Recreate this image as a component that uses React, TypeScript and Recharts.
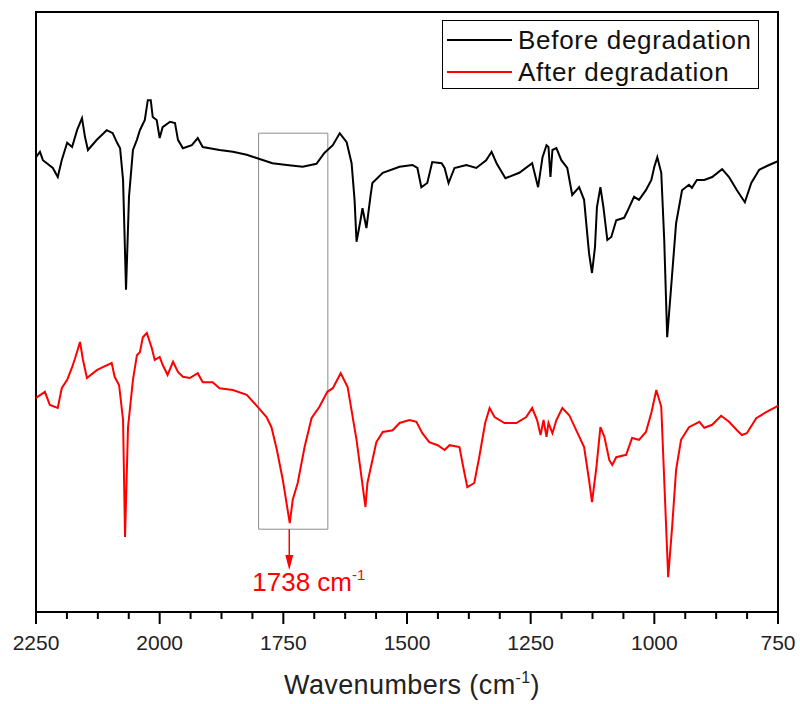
import React from 'react';
import {
  LineChart,
  Line,
  XAxis,
  YAxis,
  Legend,
  ReferenceArea,
  ReferenceLine,
  ReferenceDot,
} from 'recharts';

// FTIR spectra, wavenumber (cm-1) vs. transmittance (arbitrary units, offset)
const seriesNames = ['Before degradation', 'After degradation'];

const beforeWavenumbers = [
  2250, 2242, 2236, 2216, 2206, 2198, 2187, 2177, 2167, 2157, 2151, 2145, 2127, 2107, 2095, 2086,
  2080, 2074, 2068, 2062, 2054, 2046, 2040, 2030, 2024, 2018, 2014, 2006, 2000, 1994, 1979, 1969,
  1963, 1953, 1935, 1923, 1913, 1899, 1879, 1852, 1824, 1798, 1772, 1743, 1711, 1683, 1667, 1650,
  1636, 1622, 1612, 1606, 1602, 1594, 1590, 1582, 1574, 1570, 1549, 1515, 1489, 1479, 1471, 1459,
  1449, 1430, 1424, 1416, 1404, 1380, 1360, 1340, 1329, 1319, 1301, 1273, 1247, 1235, 1226, 1218,
  1214, 1210, 1206, 1198, 1188, 1176, 1166, 1152, 1142, 1132, 1126, 1120, 1116, 1109, 1103, 1095,
  1087, 1077, 1061, 1055, 1041, 1031, 1017, 1006, 1000, 994, 986, 980, 974, 966, 956, 944,
  930, 924, 914, 899, 883, 863, 849, 833, 817, 804, 788, 768, 754, 750,
];
const beforeValues = [
  75.8, 76.7, 75.3, 74.0, 72.5, 75.3, 78.2, 77.5, 80.3, 82.3, 79.2, 77.0, 78.7, 80.3, 79.8, 78.2,
  77.3, 72.0, 53.7, 69.2, 77.0, 78.7, 80.3, 82.0, 85.3, 85.3, 82.5, 82.0, 79.0, 80.8, 81.7, 81.5,
  78.7, 77.3, 77.8, 79.0, 77.5, 77.3, 77.0, 76.7, 76.2, 75.5, 74.8, 74.5, 74.2, 74.7, 76.5, 77.8,
  79.8, 78.3, 74.8, 68.7, 61.7, 65.3, 67.3, 64.0, 69.2, 71.5, 73.2, 74.2, 74.5, 74.0, 70.8, 71.5,
  75.0, 74.8, 74.0, 71.5, 74.0, 74.5, 74.0, 75.3, 76.7, 74.8, 72.3, 73.2, 74.8, 70.8, 75.8, 77.8,
  77.5, 72.5, 77.0, 77.3, 75.3, 74.0, 69.5, 70.8, 68.7, 59.8, 56.5, 60.8, 67.5, 70.8, 67.5, 62.0,
  62.5, 65.3, 65.7, 66.7, 69.2, 68.7, 70.3, 72.0, 74.2, 75.8, 73.2, 62.0, 45.8, 54.2, 64.8, 70.3,
  71.2, 70.7, 72.0, 72.0, 72.5, 73.8, 72.5, 70.3, 68.3, 71.5, 73.7, 74.5, 75.0, 75.2,
];

const afterWavenumbers = [
  2250, 2232, 2222, 2206, 2198, 2187, 2177, 2171, 2161, 2155, 2147, 2127, 2115, 2097, 2091, 2082,
  2074, 2070, 2064, 2054, 2046, 2040, 2034, 2026, 2016, 2010, 2000, 1994, 1984, 1973, 1963, 1953,
  1939, 1923, 1913, 1893, 1879, 1852, 1824, 1802, 1784, 1774, 1763, 1751, 1737, 1731, 1721, 1707,
  1693, 1677, 1661, 1650, 1634, 1620, 1602, 1584, 1580, 1562, 1549, 1529, 1515, 1495, 1481, 1469,
  1455, 1438, 1424, 1414, 1394, 1384, 1378, 1364, 1354, 1342, 1333, 1323, 1303, 1279, 1259, 1247,
  1237, 1230, 1224, 1218, 1214, 1206, 1198, 1186, 1172, 1158, 1142, 1132, 1126, 1117, 1109, 1101,
  1091, 1085, 1077, 1057, 1045, 1031, 1017, 1006, 996, 986, 980, 972, 964, 956, 946, 930,
  909, 899, 883, 865, 849, 833, 823, 813, 794, 774, 754, 750,
];
const afterValues = [
  35.7, 36.7, 34.5, 34.0, 37.3, 38.7, 40.8, 42.3, 45.0, 42.0, 39.0, 40.3, 40.8, 41.5, 39.2, 37.8,
  32.0, 12.5, 30.8, 38.7, 42.8, 43.3, 45.8, 46.5, 44.0, 42.0, 42.5, 41.2, 39.5, 41.7, 40.0, 39.2,
  39.0, 39.8, 38.3, 38.3, 37.3, 37.0, 36.2, 34.2, 32.5, 30.8, 27.0, 22.0, 14.8, 18.7, 21.5, 27.5,
  32.3, 34.2, 36.7, 37.3, 39.8, 37.5, 28.7, 17.5, 21.5, 28.3, 30.0, 30.3, 31.5, 32.0, 31.7, 29.8,
  28.3, 27.8, 27.0, 27.8, 27.5, 23.2, 20.8, 21.5, 25.8, 31.5, 34.0, 32.5, 31.5, 31.5, 32.5, 34.0,
  32.0, 29.5, 32.0, 29.2, 31.5, 29.8, 32.0, 34.0, 32.8, 30.3, 27.5, 22.0, 18.3, 24.2, 30.8, 29.2,
  25.3, 24.5, 25.8, 26.2, 29.0, 28.7, 30.0, 33.2, 37.0, 34.2, 22.0, 5.8, 14.2, 23.7, 28.7, 30.8,
  31.7, 30.7, 31.2, 32.7, 31.7, 30.3, 29.5, 29.8, 32.3, 33.3, 34.2, 34.4,
];

const majorTicks = [2250, 2000, 1750, 1500, 1250, 1000, 750];
const allTicks = [
  2250, 2187.5, 2125, 2062.5, 2000, 1937.5, 1875, 1812.5, 1750, 1687.5, 1625, 1562.5, 1500,
  1437.5, 1375, 1312.5, 1250, 1187.5, 1125, 1062.5, 1000, 937.5, 875, 812.5, 750,
];

// highlighted band and peak marker
const bandFrom = 1800;
const bandTo = 1660;
const bandLow = 13.8;
const bandHigh = 79.8;
const peakWavenumber = 1738;
const arrowTip = 7;

const beforeData = beforeWavenumbers.map((w, i) => ({ w, t: beforeValues[i] }));
const afterData = afterWavenumbers.map((w, i) => ({ w, t: afterValues[i] }));

const FONT = '"Liberation Sans", Arial, sans-serif';

const XTick = (props: any) => {
  const { x, y, payload } = props;
  const major = majorTicks.includes(payload.value);
  return (
    <g>
      <line x1={x} x2={x} y1={y} y2={y + (major ? 12 : 7)} stroke="#000" strokeWidth={2} />
      {major && (
        <text x={x} y={y + 38} textAnchor="middle" fontSize={21} fill="#222" fontFamily={FONT}>
          {payload.value}
        </text>
      )}
    </g>
  );
};

const AxisTitle = (props: any) => {
  const { viewBox } = props;
  const cx = viewBox.x + viewBox.width / 2 + 5;
  return (
    <text
      x={cx}
      y={viewBox.y + 82}
      textAnchor="middle"
      fontSize={27}
      letterSpacing={0.4}
      fill="#222"
      fontFamily={FONT}
    >
      Wavenumbers (cm
      <tspan fontSize={16} dy={-11}>-1</tspan>
      <tspan dy={11}>)</tspan>
    </text>
  );
};

const PeakMarker = (props: any) => {
  const { cx, cy } = props;
  return (
    <g>
      <path d={`M${cx},${cy} L${cx - 4},${cy - 15} L${cx + 4},${cy - 15} Z`} fill="#ff0000" />
      <text x={cx - 37} y={cy + 21} fontSize={26} fill="#ff0000" fontFamily={FONT}>
        {peakWavenumber} cm
        <tspan fontSize={15} dy={-11}>-1</tspan>
      </text>
    </g>
  );
};

const renderLegend = (props: any) => {
  const items = [...(props.payload || [])].sort(
    (a: any, b: any) => seriesNames.indexOf(a.value) - seriesNames.indexOf(b.value)
  );
  return (
    <div style={{ border: '1px solid #000', width: 317, height: 69, boxSizing: 'border-box', background: '#fff' }}>
      <svg width={315} height={67}>
        {items.map((item: any, i: number) => (
          <g key={item.value}>
            <line x1={4} x2={69} y1={19 + i * 32} y2={19 + i * 32} stroke={item.color} strokeWidth={2} />
            <text x={75} y={28 + i * 32} fontSize={26} letterSpacing={0.7} fill="#111" fontFamily={FONT}>
              {item.value}
            </text>
          </g>
        ))}
      </svg>
    </div>
  );
};

export default function App() {
  return (
    <div style={{ position: 'absolute', left: 0, top: 0, background: '#fff' }}>
      <LineChart width={800} height={704} margin={{ top: 12, right: 22, bottom: 32, left: 36 }}>
        <XAxis
          type="number"
          dataKey="w"
          domain={[750, 2250]}
          reversed
          ticks={allTicks}
          interval={0}
          height={60}
          tickSize={0}
          tickMargin={0}
          tick={<XTick />}
          axisLine={{ stroke: '#000', strokeWidth: 2 }}
          label={<AxisTitle />}
        />
        <YAxis type="number" domain={[0, 100]} width={0} hide />
        {/* plot frame */}
        <ReferenceArea x1={2250} x2={750} y1={0} y2={100} stroke="#000" strokeWidth={2} fill="none" fillOpacity={0} />
        <ReferenceArea x1={bandFrom} x2={bandTo} y1={bandLow} y2={bandHigh} stroke="#8c8c8c" strokeWidth={1} fill="none" fillOpacity={0} />
        <Line
          data={beforeData}
          dataKey="t"
          name={seriesNames[0]}
          stroke="#000000"
          strokeWidth={2}
          dot={false}
          type="linear"
          isAnimationActive={false}
        />
        <Line
          data={afterData}
          dataKey="t"
          name={seriesNames[1]}
          stroke="#ff0000"
          strokeWidth={2}
          dot={false}
          type="linear"
          isAnimationActive={false}
        />
        <ReferenceLine
          segment={[{ x: peakWavenumber, y: bandLow }, { x: peakWavenumber, y: arrowTip + 2 }]}
          stroke="#ff0000"
          strokeWidth={1.5}
        />
        <ReferenceDot x={peakWavenumber} y={arrowTip} shape={<PeakMarker />} />
        <Legend
          layout="horizontal"
          align="center"
          verticalAlign="middle"
          content={renderLegend}
          wrapperStyle={{ top: 20, left: 442, width: 317, height: 69 }}
        />
      </LineChart>
    </div>
  );
}
